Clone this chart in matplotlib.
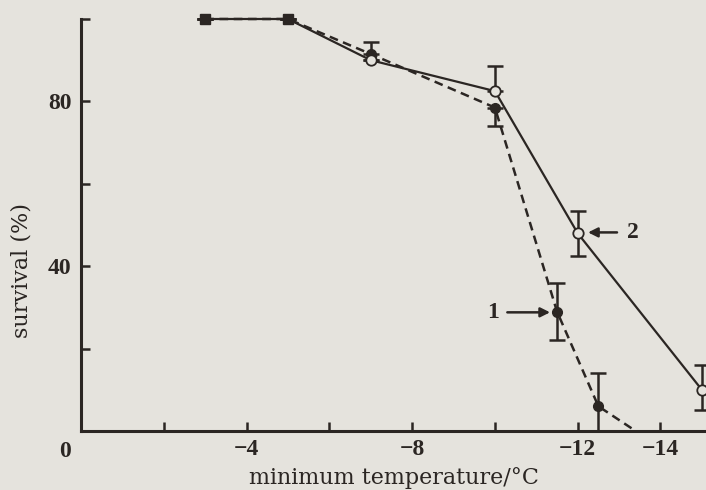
import matplotlib
matplotlib.use('Agg')
import matplotlib.pyplot as plt

# survival (%) against minimum temperature
# series 1: filled circles, dashed line
temp1 = [-3, -5, -7, -10, -11.5, -12.5, -13.4]
surv1 = [100, 100, 91.5, 78.5, 29, 6, 0]
err1_lo = [0, 0, 0, 4.5, 7, 6, 0]
err1_hi = [0, 0, 3, 0, 7, 8, 0]

# series 2: open circles, solid line
temp2 = [-3, -5, -7, -10, -12, -15]
surv2 = [100, 100, 90, 82.5, 48, 10]
err2_lo = [0, 0, 0, 0, 5.5, 5]
err2_hi = [0, 0, 0, 6, 5.5, 6]

xticks = [-2, -4, -6, -8, -10, -12, -14]
xticklabels = ['', '\u22124', '', '\u22128', '', '\u221212', '\u221214']
yticks = [0, 20, 40, 60, 80, 100]
yticklabels = ['', '', '40', '', '80', '']

BG = '#e5e3dd'
INK = '#2b2623'

plt.rcParams['font.family'] = ['Liberation Serif', 'DejaVu Serif']
LABEL_FONT = ['DejaVu Serif']

fig = plt.figure(figsize=(7.06, 4.90), dpi=100, facecolor=BG)
ax = fig.add_axes([81/706, 59/490, 1 - 81/706, 412/490])
ax.set_facecolor(BG)

# lines
ax.plot(temp2, surv2, '-', color=INK, lw=1.6, clip_on=False, zorder=2)
ax.plot(temp1, surv1, color=INK, lw=1.8, ls=(0, (3.5, 2.2)), clip_on=False, zorder=2)

# error bars
eb2 = ax.errorbar(temp2, surv2, yerr=[err2_lo, err2_hi], fmt='none', ecolor=INK,
                  elinewidth=1.8, capsize=6, capthick=1.8, zorder=3)
eb1 = ax.errorbar(temp1, surv1, yerr=[err1_lo, err1_hi], fmt='none', ecolor=INK,
                  elinewidth=1.8, capsize=6, capthick=1.8, zorder=3)
for eb in (eb1, eb2):
    for c in eb.lines[1] + eb.lines[2]:
        c.set_clip_on(False)

# markers: the first two points are drawn as squares
ax.plot(temp1[:2], surv1[:2], 's', color=INK, ms=7.5, clip_on=False, zorder=4)
ax.plot(temp1[2:-1], surv1[2:-1], 'o', color=INK, ms=7, clip_on=False, zorder=4)
ax.plot(temp2[2:], surv2[2:], 'o', mfc=BG, mec=INK, mew=1.3, ms=7.5,
        clip_on=False, zorder=5)

ax.set_xlim(0, -15.1)
ax.set_ylim(0, 100)

for s in ('top', 'right'):
    ax.spines[s].set_visible(False)
for s in ('left', 'bottom'):
    ax.spines[s].set_linewidth(2.2)
    ax.spines[s].set_color(INK)

ax.set_xticks(xticks)
ax.set_xticklabels(xticklabels)
ax.set_yticks(yticks)
ax.set_yticklabels(yticklabels)
ax.tick_params(direction='in', length=6.5, width=1.8, color=INK,
               labelsize=17, labelcolor=INK)
ax.tick_params(axis='x', pad=6)
ax.tick_params(axis='y', pad=7)
for lab in ax.get_xticklabels() + ax.get_yticklabels():
    lab.set_fontweight('bold')

# corner zero
ax.annotate('0', xy=(0, 0), xycoords='data', xytext=(-11.5, -7.5),
            textcoords='offset points', ha='center', va='top',
            fontsize=17, fontweight='bold', color=INK, annotation_clip=False)

ax.set_xlabel('minimum temperature/\u00b0C', fontsize=16, color=INK,
              family=LABEL_FONT)
ax.xaxis.set_label_coords(0.5, -0.088)
ax.set_ylabel('survival (%)', fontsize=16, color=INK, family=LABEL_FONT)
ax.yaxis.set_label_coords(-0.078, 0.39)

# labels with arrows
ax.annotate('', xy=(-11.4, 28.8), xytext=(-10.3, 28.8),
            arrowprops=dict(arrowstyle='-|>', color=INK, lw=1.8, mutation_scale=14,
                            shrinkA=0, shrinkB=2))
ax.text(-10.1, 28.8, '1', ha='right', va='center', fontsize=17,
        fontweight='bold', color=INK)
ax.annotate('', xy=(-12.25, 48.2), xytext=(-12.95, 48.2),
            arrowprops=dict(arrowstyle='-|>', color=INK, lw=1.8, mutation_scale=14,
                            shrinkA=0, shrinkB=0))
ax.text(-13.2, 48.2, '2', ha='left', va='center', fontsize=17,
        fontweight='bold', color=INK)

fig.savefig('out.png', dpi=100, facecolor=BG)
